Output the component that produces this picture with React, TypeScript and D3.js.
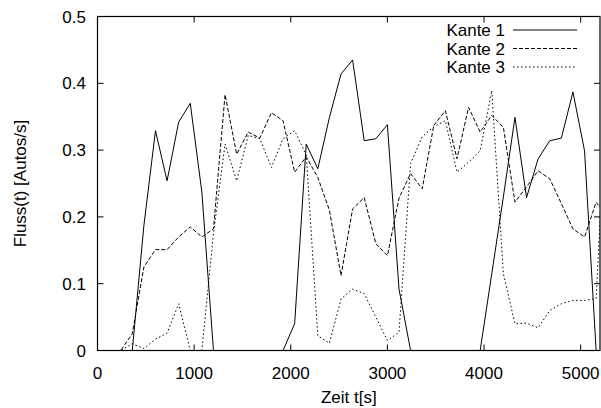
import React from "react";
import * as d3 from "d3";

const times: number[] = Array.from({ length: 45 }, (_, i) => i * 120);

const kante1: number[] = [
  0, 0, 0, 0, 0.187, 0.329, 0.254, 0.342, 0.37, 0.237,
  0, 0, 0, 0, 0, 0, 0, 0.04, 0.309, 0.272,
  0.349, 0.414, 0.435, 0.314, 0.317, 0.338, 0.092, 0, 0, 0,
  0, 0, 0, 0, 0.115, 0.23, 0.349, 0.229, 0.287, 0.314,
  0.318, 0.387, 0.299, 0, 0,
];

const kante2: number[] = [
  0, 0, 0, 0.025, 0.125, 0.151, 0.151, 0.17, 0.185, 0.17,
  0.182, 0.383, 0.294, 0.327, 0.318, 0.356, 0.344, 0.267, 0.29, 0.259,
  0.21, 0.112, 0.212, 0.229, 0.16, 0.142, 0.228, 0.265, 0.242, 0.337,
  0.359, 0.287, 0.364, 0.327, 0.352, 0.334, 0.222, 0.245, 0.269, 0.257,
  0.22, 0.182, 0.17, 0.222, 0.2,
];

const kante3: number[] = [
  0, 0, 0, 0.01, 0.003, 0.017, 0.026, 0.07, 0, 0,
  0.175, 0.309, 0.254, 0.322, 0.317, 0.274, 0.317, 0.329, 0.293, 0.022,
  0.011, 0.077, 0.092, 0.085, 0.05, 0.015, 0.027, 0.28, 0.32, 0.335,
  0.344, 0.267, 0.282, 0.299, 0.389, 0.115, 0.04, 0.041, 0.034, 0.06,
  0.07, 0.075, 0.075, 0.078, 0.42,
];

const seriesNames: string[] = ["Kante 1", "Kante 2", "Kante 3"];
const xTicks: number[] = [0, 1000, 2000, 3000, 4000, 5000];
const yTicks: number[] = [0, 0.1, 0.2, 0.3, 0.4, 0.5];
const xLabel = "Zeit t[s]";
const yLabel = "Fluss(t) [Autos/s]";

const W = 601;
const H = 408;
const left = 97.5;
const right = 600;
const top = 16.5;
const bottom = 350.5;
const FONT = "'Liberation Sans', Arial, Helvetica, sans-serif";

export default function App() {
  const x = d3.scaleLinear().domain([0, 5200]).range([left, right]);
  const y = d3.scaleLinear().domain([0, 0.5]).range([bottom, top]);
  const line = d3
    .line<number>()
    .x((_, i) => x(times[i]))
    .y((d) => y(d));
  const all = [kante1, kante2, kante3];
  const dashes = ["none", "4,2", "1.5,2.5"];
  const tickLen = 6;

  return (
    <svg
      width={W}
      height={H}
      style={{ position: "absolute", left: 0, top: 0, background: "#fff" }}
      fontFamily={FONT}
    >
      <defs>
        <clipPath id="plotClip">
          <rect x={left} y={top} width={right - left} height={bottom - top} />
        </clipPath>
      </defs>
      <rect width={W} height={H} fill="#fff" />
      {/* ticks */}
      {xTicks.map((t) => (
        <g key={"xt" + t}>
          <line x1={x(t)} x2={x(t)} y1={bottom} y2={bottom - tickLen} stroke="#000" strokeWidth={1} />
          <line x1={x(t)} x2={x(t)} y1={top} y2={top + tickLen} stroke="#000" strokeWidth={1} />
          <text x={x(t)} y={bottom + 28} fontSize={17} textAnchor="middle" fill="#000">
            {t}
          </text>
        </g>
      ))}
      {yTicks.map((t) => (
        <g key={"yt" + t}>
          <line x1={left} x2={left + tickLen} y1={y(t)} y2={y(t)} stroke="#000" strokeWidth={1} />
          <line x1={right} x2={right - tickLen} y1={y(t)} y2={y(t)} stroke="#000" strokeWidth={1} />
          <text x={86} y={y(t) + 6} fontSize={17} textAnchor="end" fill="#000">
            {d3.format("")(t)}
          </text>
        </g>
      ))}
      {/* series */}
      <g clipPath="url(#plotClip)">
        {all.map((s, i) => (
          <path
            key={"s" + i}
            d={line(s) || ""}
            fill="none"
            stroke="#000"
            strokeWidth={1}
            strokeDasharray={dashes[i]}
          />
        ))}
      </g>
      {/* border */}
      <rect
        x={left}
        y={top}
        width={right - left}
        height={bottom - top}
        fill="none"
        stroke="#000"
        strokeWidth={1.2}
      />
      {/* legend */}
      {seriesNames.map((n, i) => (
        <g key={"lg" + i}>
          <text x={505} y={36 + i * 18.5} fontSize={17} textAnchor="end" fill="#000">
            {n}
          </text>
          <line
            x1={513}
            x2={577}
            y1={30 + i * 18.5}
            y2={30 + i * 18.5}
            stroke="#000"
            strokeWidth={1}
            strokeDasharray={dashes[i]}
          />
        </g>
      ))}
      {/* axis labels */}
      <text x={(left + right) / 2} y={403} fontSize={17} textAnchor="middle" fill="#000">
        {xLabel}
      </text>
      <text
        transform={`translate(26, ${(top + bottom) / 2}) rotate(-90)`}
        fontSize={17}
        textAnchor="middle"
        fill="#000"
      >
        {yLabel}
      </text>
    </svg>
  );
}
